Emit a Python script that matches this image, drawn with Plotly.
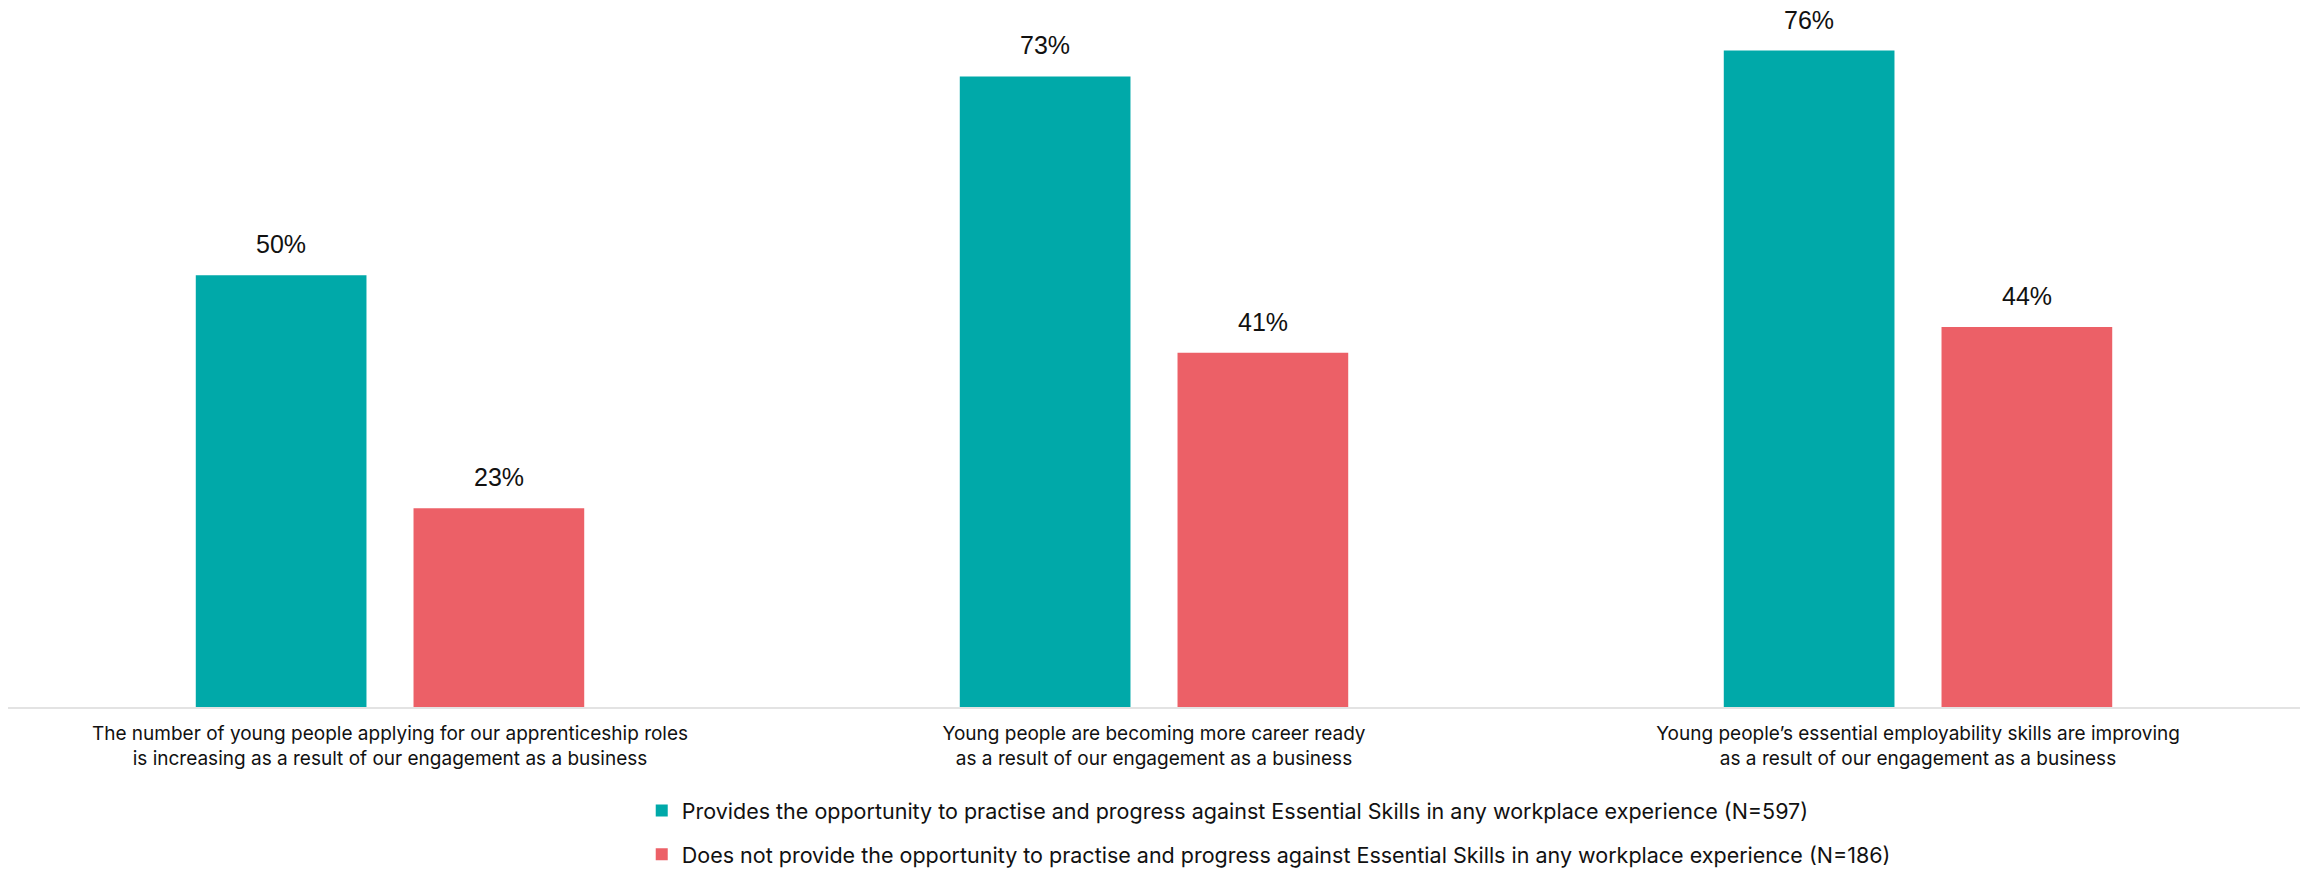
import plotly.graph_objects as go

categories = [
    "The number of young people applying for our apprenticeship roles<br>is increasing as a result of our engagement as a business",
    "Young people are becoming more career ready<br>as a result of our engagement as a business",
    "Young people’s essential employability skills are improving<br>as a result of our engagement as a business",
]
series_names = [
    "Provides the opportunity to practise and progress against Essential Skills in any workplace experience (N=597)",
    "Does not provide the opportunity to practise and progress against Essential Skills in any workplace experience (N=186)",
]
provides = [50, 73, 76]
not_provides = [23, 41, 44]
colors = ["#00A9A9", "#EC6067"]

label_font = dict(family="Liberation Sans, Arial", size=25, color="#111111")
tick_font = dict(family="Inter, Noto Sans, sans-serif", size=19, color="#111111")
legend_font = dict(family="Inter, Noto Sans, sans-serif", size=21.5, color="#111111")

fig = go.Figure()
for i, (name, vals) in enumerate(zip(series_names, [provides, not_provides])):
    fig.add_trace(go.Bar(
        x=categories, y=vals, name=name,
        marker=dict(color=colors[i], line=dict(width=0)),
        legendgroup=f"g{i}",
        hoverinfo="skip",
    ))

slot_px = 109
for i, vals in enumerate([provides, not_provides]):
    shift = -slot_px if i == 0 else slot_px
    for c, v in zip(categories, vals):
        fig.add_annotation(
            x=c, y=v, xref="x", yref="y", text=f"{v}%",
            showarrow=False, xshift=shift, yanchor="bottom", yshift=15,
            font=label_font,
        )

fig.update_layout(
    width=2303, height=864,
    margin=dict(l=0, r=11, t=8, b=165, autoexpand=False),
    paper_bgcolor="white", plot_bgcolor="white",
    barmode="group", bargap=0.43, bargroupgap=0.216,
    showlegend=True,
    legend=dict(
        orientation="v", x=0.2765, xanchor="left", y=-0.12, yanchor="top",
        font=legend_font, tracegroupgap=13, bgcolor="rgba(0,0,0,0)",
    ),
    xaxis=dict(
        showline=True, linecolor="#E3E3E3", linewidth=2,
        ticks="", tickfont=tick_font, showgrid=False, ticklabelstandoff=8,
    ),
    yaxis=dict(
        range=[0, 80], visible=False, showgrid=False, zeroline=False,
    ),
)

fig.write_html("out.html")
